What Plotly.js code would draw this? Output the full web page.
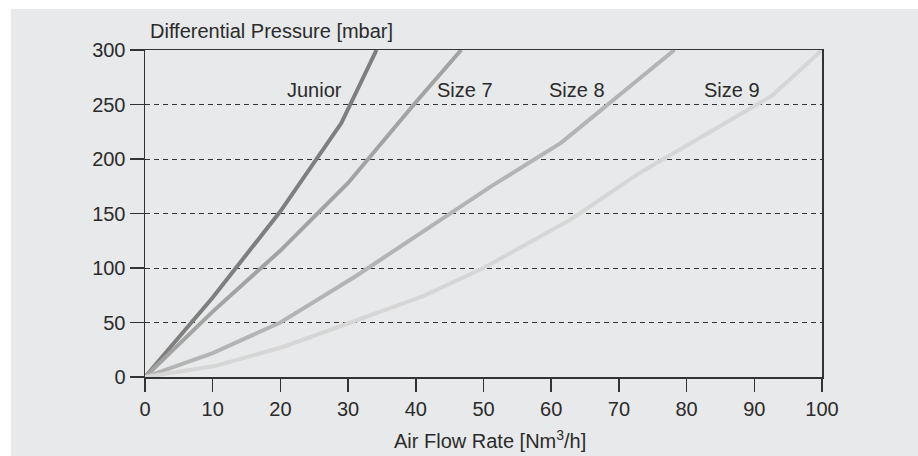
<!DOCTYPE html>
<html>
<head>
<meta charset="utf-8">
<script src="https://cdn.plot.ly/plotly-3.0.1.min.js"></script>
<style>
html,body{margin:0;padding:0;background:#fff;}
#chart{width:918px;height:456px;}
</style>
</head>
<body>
<div id="chart"></div>
<script>
// Data
const seriesNames = ['Junior', 'Size 7', 'Size 8', 'Size 9'];
const juniorX = [0, 10, 20, 29, 34.2];
const juniorY = [0, 73, 152, 233, 300];
const size7X = [0, 10, 20, 30, 40, 46.7];
const size7Y = [0, 60, 116, 178, 252, 300];
const size8X = [0, 10, 20, 31, 51.4, 61.5, 78.2];
const size8Y = [0, 22, 50, 92, 176, 215, 300];
const size9X = [0, 10.3, 20.6, 41, 50, 63, 73, 92.6, 100];
const size9Y = [0, 10, 28, 74, 100, 145, 187, 258, 300];
const xTicks = [0, 10, 20, 30, 40, 50, 60, 70, 80, 90, 100];
const yTicks = [0, 50, 100, 150, 200, 250, 300];
const yTitle = 'Differential Pressure [mbar]';
const xTitle = 'Air Flow Rate [Nm<sup>3</sup>/h]';

const FONT = 'Liberation Sans, Arial, sans-serif';
const TXT = '#2b2b2b';
const colors = ['#7f7f7f', '#a3a3a3', '#b4b4b4', '#d6d6d6'];
const xs = [juniorX, size7X, size8X, size9X];
const ys = [juniorY, size7Y, size8Y, size9Y];

const traces = seriesNames.map((n, i) => ({
  type: 'scatter', mode: 'lines', name: n,
  x: xs[i], y: ys[i],
  line: {color: colors[i], width: 4},
  hoverinfo: 'skip'
}));

const labelPos = [[25.1, 263], [47.3, 263], [63.8, 263], [86.7, 263]];
const annotations = seriesNames.map((n, i) => ({
  text: n, x: labelPos[i][0], y: labelPos[i][1], xref: 'x', yref: 'y',
  showarrow: false, xanchor: 'center', yanchor: 'middle',
  font: {family: FONT, size: 20, color: TXT}
}));
annotations.push({
  text: yTitle, xref: 'paper', yref: 'paper', x: 0.004, y: 1.058,
  xanchor: 'left', yanchor: 'middle', showarrow: false,
  font: {family: FONT, size: 20, color: TXT}
});
annotations.push({
  text: xTitle, xref: 'x', yref: 'paper', x: 51, y: -0.19,
  xanchor: 'center', yanchor: 'middle', showarrow: false,
  font: {family: FONT, size: 20, color: TXT}
});

const layout = {
  width: 918, height: 456,
  margin: {l: 145, r: 96, t: 50, b: 79, pad: 0},
  paper_bgcolor: '#ffffff',
  plot_bgcolor: 'rgba(0,0,0,0)',
  showlegend: false,
  font: {family: FONT, size: 20, color: TXT},
  shapes: [{
    type: 'rect', xref: 'paper', yref: 'paper', layer: 'below',
    x0: -0.198, x1: 1.3, y0: -0.4, y1: 1.1254,
    fillcolor: '#e8e9ea', line: {width: 0}
  }],
  xaxis: {
    range: [0, 100], tickvals: xTicks, ticktext: xTicks.map(String),
    ticks: 'outside', ticklen: 13, tickwidth: 1.5, tickcolor: '#333',
    showline: true, linecolor: '#333', linewidth: 1.5, mirror: true,
    showgrid: false, zeroline: false, fixedrange: true,
    tickfont: {family: FONT, size: 20, color: TXT}
  },
  yaxis: {
    range: [0, 300], tickvals: yTicks, ticktext: yTicks.map(String),
    ticks: 'outside', ticklen: 14, tickwidth: 1.5, tickcolor: '#333',
    showline: true, linecolor: '#333', linewidth: 1.5, mirror: true,
    showgrid: true, gridcolor: '#333', gridwidth: 1, griddash: '5px,4px',
    zeroline: false, fixedrange: true,
    tickfont: {family: FONT, size: 20, color: TXT}
  },
  annotations: annotations
};

Plotly.newPlot('chart', traces, layout, {staticPlot: true, displayModeBar: false});
</script>
</body>
</html>
